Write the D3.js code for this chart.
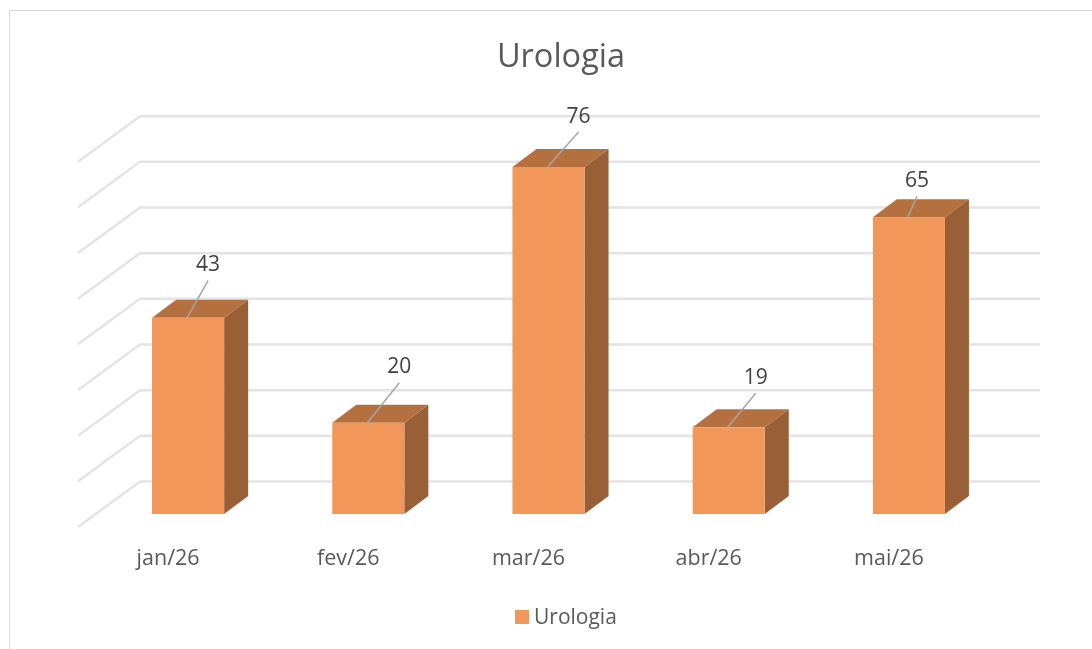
<!DOCTYPE html>
<html lang="pt">
<head>
<meta charset="utf-8">
<title>Urologia</title>
<style>
  html, body { margin: 0; padding: 0; background: #fff; }
  svg { display: block; font-family: "Open Sans", sans-serif; filter: blur(0.4px); }
  .tick text { fill: #595959; font-size: 21.5px; font-family: "Open Sans", sans-serif; }
</style>
</head>
<body>
<svg width="1092" height="649"></svg>
<script src="https://cdn.jsdelivr.net/npm/d3@7"></script>
<script>
var title = "Urologia";
var seriesName = "Urologia";
var months = ["jan/26", "fev/26", "mar/26", "abr/26", "mai/26"];
var values = [43, 20, 76, 19, 65];
var gridTicks = [0, 10, 20, 30, 40, 50, 60, 70, 80];

// where each data label sits relative to the top of its bar
var labelDx = [20, 31, 30, 27, 8];
var labelDy = [-54, -57, -52, -51, -38];

var front = "#f19759", topFace = "#b57040", side = "#995f37";
var depthX = 24, depthY = 18;     // bar depth
var wallX = 62, wallY = 45.5;     // side wall of the 3d box

var svg = d3.select("svg");

// chart frame, only top and left are visible in the screenshot
svg.append("path")
    .attr("d", "M9.5,649V10.5H1092")
    .attr("fill", "none")
    .attr("stroke", "#d9d9d9")
    .attr("stroke-width", 1);

var x = d3.scaleBand().domain(months).range([98, 999]).paddingInner(0.6).paddingOuter(0.3);
var y = d3.scaleLinear().domain([0, 80]).range([514, 148.7]);
var wall = function(v) { return y(v) - 32.5; };

// gridlines, back wall then the diagonal on the left
svg.append("g").selectAll("path")
    .data(gridTicks)
  .enter().append("path")
    .attr("fill", "none")
    .attr("stroke", "#e4e4e4")
    .attr("stroke-width", 2.5)
    .attr("d", function(d) {
      return "M78," + (wall(d) + wallY) + "L" + (78 + wallX) + "," + wall(d) + "H1040";
    });

var bars = svg.append("g").selectAll("g")
    .data(values)
  .enter().append("g");

bars.append("path")
    .attr("fill", side)
    .attr("d", function(d, i) {
      var x1 = x(months[i]) + x.bandwidth();
      return "M" + x1 + "," + y(d) + "l" + depthX + "," + (-depthY) + "V" + (y(0) - depthY) + "l" + (-depthX) + "," + depthY + "Z";
    });

bars.append("path")
    .attr("fill", topFace)
    .attr("d", function(d, i) {
      return "M" + x(months[i]) + "," + y(d) + "l" + depthX + "," + (-depthY) + "h" + x.bandwidth() + "l" + (-depthX) + "," + depthY + "Z";
    });

bars.append("rect")
    .attr("fill", front)
    .attr("x", function(d, i) { return x(months[i]); })
    .attr("y", function(d) { return y(d); })
    .attr("width", x.bandwidth())
    .attr("height", function(d) { return y(0) - y(d); });

// leader lines from the bar top up to the label
bars.append("line")
    .attr("stroke", "#a6a6a6")
    .attr("stroke-width", 1.5)
    .attr("x1", function(d, i) { return x(months[i]) + x.bandwidth() / 2 - 1; })
    .attr("y1", function(d) { return y(d); })
    .attr("x2", function(d, i) { return x(months[i]) + x.bandwidth() / 2 + labelDx[i]; })
    .attr("y2", function(d, i) { return y(d) + labelDy[i] + 17; });

bars.append("text")
    .attr("fill", "#404040")
    .attr("font-size", 21)
    .attr("text-anchor", "middle")
    .attr("dy", "0.36em")
    .attr("x", function(d, i) { return x(months[i]) + x.bandwidth() / 2 + labelDx[i]; })
    .attr("y", function(d, i) { return y(d) + labelDy[i]; })
    .text(function(d) { return d; });

// category labels sit left of the bars because of the 3d offset
svg.append("g")
    .attr("transform", "translate(-20,550)")
    .call(d3.axisBottom(x).tickSize(0).tickPadding(0))
    .call(function(g) { g.select(".domain").remove(); });

svg.append("text")
    .attr("x", 561)
    .attr("y", 67)
    .attr("text-anchor", "middle")
    .attr("fill", "#595959")
    .attr("font-size", 32.5)
    .text(title);

// legend
svg.append("rect")
    .attr("x", 515)
    .attr("y", 610)
    .attr("width", 14)
    .attr("height", 14)
    .attr("fill", front);

svg.append("text")
    .attr("x", 534)
    .attr("y", 624)
    .attr("fill", "#595959")
    .attr("font-size", 21)
    .text(seriesName);
</script>
</body>
</html>
